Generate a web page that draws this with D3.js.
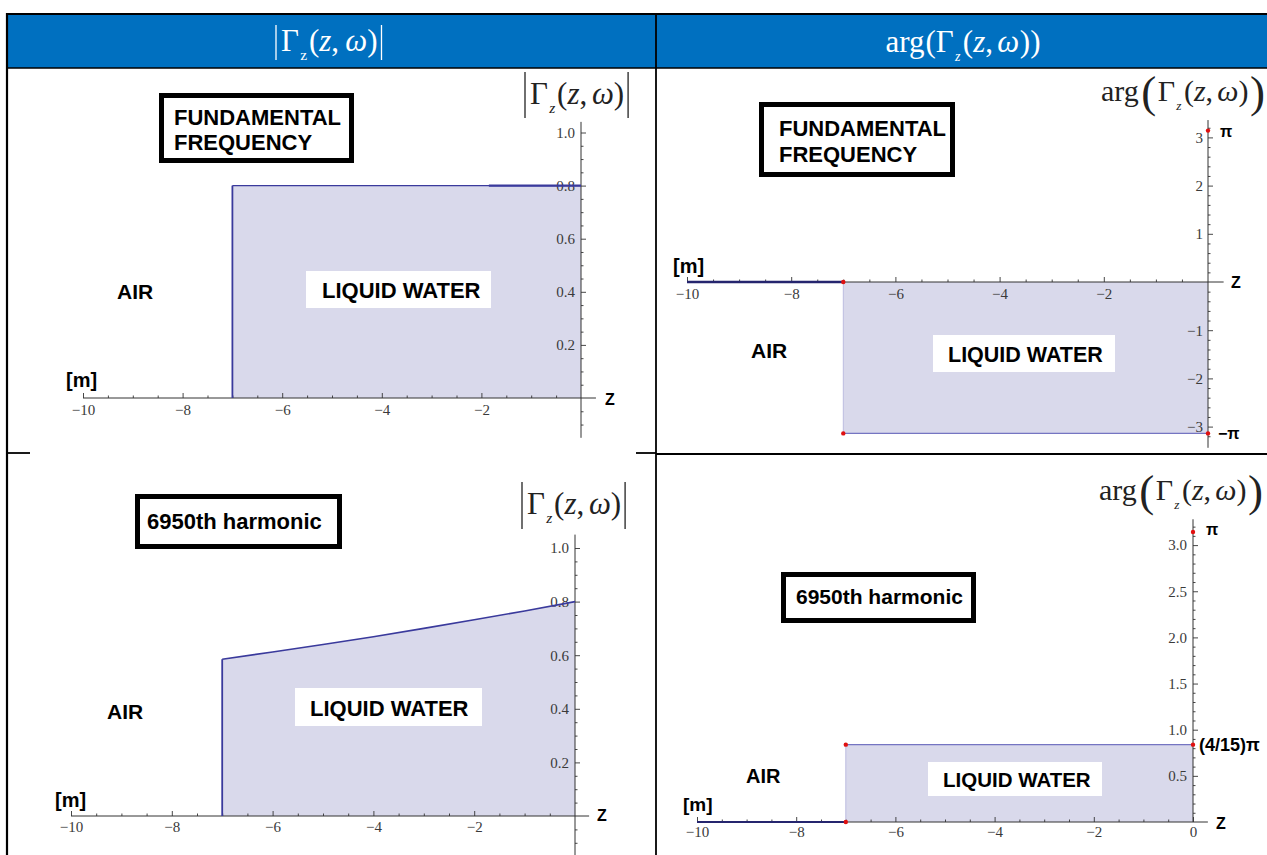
<!DOCTYPE html>
<html>
<head>
<meta charset="utf-8">
<script src="https://cdn.jsdelivr.net/npm/d3@7"></script>
<style>
  body { margin: 0; background: #fff; }
  svg { display: block; }
</style>
</head>
<body>
<svg id="chart" width="1267" height="855"></svg>
<script>
// ---- depth axis (metres, surface at z = 0) ----
const zMajorTicks = [-10, -8, -6, -4, -2];
const zMajorTicksWithZero = [-10, -8, -6, -4, -2, 0];
const zMinorTicks = [-9.5, -9, -8.5, -7.5, -7, -6.5, -5.5, -5, -4.5, -3.5, -3, -2.5, -1.5, -1, -0.5];

// ---- magnitude axis ticks ----
const magMajorTicks = [0.2, 0.4, 0.6, 0.8, 1.0];
const magMinorTicks = [0.05, 0.1, 0.15, 0.25, 0.3, 0.35, 0.45, 0.5, 0.55, 0.65, 0.7, 0.75, 0.85, 0.9, 0.95, -0.05, -0.1];

// ---- phase axis ticks ----
const argFundMajorTicks = [-3, -2, -1, 1, 2, 3];
const argFundMinorTicks = [-3.2, -2.8, -2.6, -2.4, -2.2, -1.8, -1.6, -1.4, -1.2, -0.8, -0.6, -0.4, -0.2,
                           0.2, 0.4, 0.6, 0.8, 1.2, 1.4, 1.6, 1.8, 2.2, 2.4, 2.6, 2.8, 3.2];
const argHarmMajorTicks = [0.5, 1.0, 1.5, 2.0, 2.5, 3.0];
const argHarmMinorTicks = [0.1, 0.2, 0.3, 0.4, 0.6, 0.7, 0.8, 0.9, 1.1, 1.2, 1.3, 1.4, 1.6, 1.7, 1.8, 1.9,
                           2.1, 2.2, 2.3, 2.4, 2.6, 2.7, 2.8, 2.9, 3.1, 3.2];

// ---- |Γz(z,ω)| at the fundamental frequency ----
const fundMagZ      = [-7, -7, 0];
const fundMagValues = [0, 0.8, 0.8];
const fundMagOverlapZ      = [-1.85, 0];
const fundMagOverlapValues = [0.8, 0.8];

// ---- |Γz(z,ω)| at the 6950th harmonic ----
const harmMagZ      = [-7, -7, -6, -5, -4, -3, -2, -1, 0];
const harmMagValues = [0, 0.585, 0.612, 0.640, 0.669, 0.700, 0.732, 0.765, 0.800];

// ---- arg(Γz(z,ω)) at the fundamental frequency ----
const fundArgZ      = [-10, -7, -7, 0];
const fundArgValues = [0, 0, -Math.PI, -Math.PI];
const fundArgMarkZ      = [-7, -7, 0, 0];
const fundArgMarkValues = [0, -Math.PI, -Math.PI, Math.PI];

// ---- arg(Γz(z,ω)) at the 6950th harmonic ----
const harmArgZ      = [-10, -7, -7, 0];
const harmArgValues = [0, 0, 4 * Math.PI / 15, 4 * Math.PI / 15];
const harmArgMarkZ      = [-7, -7, 0, 0];
const harmArgMarkValues = [0, 4 * Math.PI / 15, 4 * Math.PI / 15, Math.PI];

// ---- colours ----
const HEADER_BLUE = "#0070c0";
const LINE = "#3a3a9c";
const NAVY = "#25256e";
const EDGE = "#7575c2";
const FAINT = "#bcbce0";
const FILL = "#d9d9eb";
const DOT = "#e01010";
const AXIS = "#333";
const SERIF = "'Liberation Serif','Times New Roman',serif";
const SANS = "'Liberation Sans',Arial,sans-serif";

const svg = d3.select("#chart");
svg.append("rect").attr("width", 1267).attr("height", 855).attr("fill", "#fff");

// ---------- table frame ----------
const frame = svg.append("g");
frame.append("rect").attr("x", 7).attr("y", 14).attr("width", 1262).attr("height", 54).attr("fill", HEADER_BLUE);
const frameLines = [
  [7, 14, 1267, 14, 2.2],
  [7, 68, 1267, 68, 1.6],
  [7, 13, 7, 855, 2.2],
  [656, 13, 656, 855, 1.8],
  [6, 453, 30, 453, 1.8],
  [636, 453, 656, 453, 1.8],
  [656, 454, 1267, 454, 1.8]
];
frame.selectAll("line").data(frameLines).join("line")
  .attr("x1", d => d[0]).attr("y1", d => d[1]).attr("x2", d => d[2]).attr("y2", d => d[3])
  .attr("stroke", "#000").attr("stroke-width", d => d[4]);

// ---------- math-style labels ----------
function absLabel(parent, x, y, size, color, subItalic, barTop, barBottom, gap) {
  const t = parent.append("text").attr("x", x).attr("y", y)
    .attr("font-family", SERIF).attr("font-size", size).attr("fill", color);
  t.append("tspan").text("Γ");
  t.append("tspan").text("z").attr("font-size", size * 0.5).attr("font-style", subItalic ? "italic" : "normal")
    .attr("dy", size * 0.3).attr("dx", size * 0.04);
  t.append("tspan").text("(").attr("dy", -size * 0.3).attr("dx", size * 0.06);
  t.append("tspan").text("z").attr("font-style", "italic");
  t.append("tspan").text(",");
  t.append("tspan").text("ω").attr("font-style", "italic").attr("dx", size * (gap || 0.15));
  t.append("tspan").text(")");
  const b = t.node().getBBox();
  const bars = [b.x - 5, b.x + b.width + 4];
  parent.selectAll(null).data(bars).join("line")
    .attr("x1", d => d).attr("x2", d => d).attr("y1", barTop).attr("y2", barBottom)
    .attr("stroke", color).attr("stroke-width", 1.3);
}

function argLabel(parent, x, y, size, color, bigParens, anchor, maxRight) {
  const t = parent.append("text").attr("x", x).attr("y", y)
    .attr("font-family", SERIF).attr("font-size", size).attr("fill", color)
    .attr("text-anchor", anchor || "start");
  t.append("tspan").text("arg");
  if (bigParens) {
    t.append("tspan").text("(").attr("font-size", size * 1.5).attr("dy", size * 0.2).attr("dx", size * 0.08)
      .attr("font-weight", "200");
    t.append("tspan").text("Γ").attr("dy", -size * 0.2).attr("dx", size * 0.05);
  } else {
    t.append("tspan").text("(").attr("dx", size * 0.03);
    t.append("tspan").text("Γ");
  }
  t.append("tspan").text("z").attr("font-size", size * 0.45).attr("font-style", "italic").attr("dy", size * 0.3)
    .attr("dx", size * 0.04);
  t.append("tspan").text("(").attr("dy", -size * 0.3).attr("dx", size * 0.08);
  t.append("tspan").text("z").attr("font-style", "italic");
  t.append("tspan").text(",");
  t.append("tspan").text("ω").attr("font-style", "italic").attr("dx", size * 0.14);
  if (bigParens) {
    t.append("tspan").text(")");
    t.append("tspan").text(")").attr("font-size", size * 1.5).attr("dy", size * 0.2).attr("dx", size * 0.05);
  } else {
    t.append("tspan").text(")").attr("dx", size * 0.02);
    t.append("tspan").text(")");
  }
  if (maxRight) {
    const b = t.node().getBBox();
    const over = b.x + b.width - maxRight;
    if (over > 0) t.attr("x", x - over);
  }
}

// header cells
absLabel(svg, 281, 51, 31, "#fff", false, 25, 60, 0.2);
argLabel(svg, 963, 52, 31, "#fff", false, "middle");

// ---------- one plot panel ----------
function panel(cfg) {
  const g = svg.append("g");
  const x = d3.scaleLinear().domain([-10, 0]).range(cfg.xRange);
  const y = d3.scaleLinear().domain([0, 1]).range(cfg.yRange);
  const pts = cfg.z.map((z, i) => [z, cfg.v[i]]);
  const x0 = x(0), y0 = y(0);

  // water region fill
  g.append("path").datum(pts.slice(cfg.fillFrom))
    .attr("d", d3.area().x(d => x(d[0])).y0(y0).y1(d => y(d[1])))
    .attr("fill", FILL);

  // horizontal z axis
  g.append("line").attr("x1", x(-10)).attr("x2", x(cfg.xAxisEnd)).attr("y1", y0).attr("y2", y0)
    .attr("stroke", AXIS).attr("stroke-width", 1);
  const xa = g.append("g").attr("transform", `translate(0,${y0})`)
    .call(d3.axisBottom(x).tickValues(cfg.xTicks).tickSize(-5).tickPadding(cfg.xPad).tickFormat(d3.format("d")));
  const xm = g.append("g").attr("transform", `translate(0,${y0})`)
    .call(d3.axisBottom(x).tickValues(zMinorTicks).tickSize(-2.5).tickFormat(""));

  // vertical value axis
  g.append("line").attr("x1", x0).attr("x2", x0).attr("y1", y(cfg.yAxisLo)).attr("y2", y(cfg.yAxisHi))
    .attr("stroke", AXIS).attr("stroke-width", 1);
  const ya = g.append("g").attr("transform", `translate(${x0},0)`)
    .call(d3.axisLeft(y).tickValues(cfg.yTicks).tickSize(-5).tickPadding(cfg.yPad).tickFormat(d3.format(cfg.yFormat)));
  const ym = g.append("g").attr("transform", `translate(${x0},0)`)
    .call(d3.axisLeft(y).tickValues(cfg.yMinor).tickSize(-2.5).tickFormat(""));

  [xa, xm, ya, ym].forEach(a => {
    a.select(".domain").remove();
    a.attr("color", AXIS).attr("font-family", SERIF).attr("font-size", 15);
    a.selectAll("line").attr("stroke-width", 0.9);
    a.selectAll("text").attr("fill", "#3a3a3a");
  });

  // curve segments
  cfg.segments.forEach(s => {
    g.append("path").datum(pts.slice(s.from, s.to + 1))
      .attr("d", d3.line().x(d => x(d[0])).y(d => y(d[1])))
      .attr("fill", "none").attr("stroke", s.stroke).attr("stroke-width", s.width);
  });
  if (cfg.overlap) {
    g.append("path").datum(cfg.overlap.z.map((z, i) => [z, cfg.overlap.v[i]]))
      .attr("d", d3.line().x(d => x(d[0])).y(d => y(d[1])))
      .attr("fill", "none").attr("stroke", LINE).attr("stroke-width", 2.4);
  }
  if (cfg.marks) {
    g.selectAll("circle.mark").data(cfg.marks.z.map((z, i) => [z, cfg.marks.v[i]])).join("circle")
      .attr("class", "mark").attr("cx", d => x(d[0])).attr("cy", d => y(d[1])).attr("r", 2.2)
      .attr("fill", DOT);
  }
  return g;
}

function boldText(g, txt, x, y, size) {
  return g.append("text").attr("x", x).attr("y", y).attr("font-family", SANS).attr("font-weight", "bold")
    .attr("font-size", size).attr("fill", "#000").text(txt);
}
function framedBox(g, x, y, w, h) {
  g.append("rect").attr("x", x).attr("y", y).attr("width", w).attr("height", h)
    .attr("fill", "#fff").attr("stroke", "#000").attr("stroke-width", 5);
}
function whiteBox(g, x, y, w, h) {
  g.append("rect").attr("x", x).attr("y", y).attr("width", w).attr("height", h).attr("fill", "#fff");
}

// ---------- panel 1: |Γ| fundamental ----------
const p1 = panel({
  xRange: [83, 581], yRange: [398, 132.5], z: fundMagZ, v: fundMagValues, fillFrom: 1,
  xAxisEnd: 0.3, yAxisLo: -0.15, yAxisHi: 1.04, xTicks: zMajorTicks, xPad: 6,
  yTicks: magMajorTicks, yMinor: magMinorTicks, yFormat: ".1f", yPad: 6,
  segments: [{ from: 0, to: 1, stroke: LINE, width: 1.8 }, { from: 1, to: 2, stroke: LINE, width: 1.2 }],
  overlap: { z: fundMagOverlapZ, v: fundMagOverlapValues }
});
framedBox(p1, 161.5, 95.5, 190, 65);
boldText(p1, "FUNDAMENTAL", 174, 125, 22);
boldText(p1, "FREQUENCY", 174, 150, 22);
boldText(p1, "AIR", 117, 299, 21);
whiteBox(p1, 306, 271, 185, 37);
boldText(p1, "LIQUID WATER", 322, 298, 22);
boldText(p1, "[m]", 66, 387, 20);
boldText(p1, "Z", 605, 405, 16);
absLabel(p1, 530, 104, 31, "#222", true, 72, 118);

// ---------- panel 2: arg fundamental ----------
const p2 = panel({
  xRange: [687, 1208], yRange: [282, 233.8], z: fundArgZ, v: fundArgValues, fillFrom: 2,
  xAxisEnd: 0.3, yAxisLo: -3.44, yAxisHi: 3.36, xTicks: zMajorTicks, xPad: 6,
  yTicks: argFundMajorTicks, yMinor: argFundMinorTicks, yFormat: "d", yPad: 5,
  segments: [{ from: 0, to: 1, stroke: NAVY, width: 2.4 }, { from: 1, to: 2, stroke: FAINT, width: 1 },
             { from: 2, to: 3, stroke: EDGE, width: 1.3 }],
  marks: { z: fundArgMarkZ, v: fundArgMarkValues }
});
framedBox(p2, 761.5, 104.5, 191, 70);
boldText(p2, "FUNDAMENTAL", 779, 136, 22);
boldText(p2, "FREQUENCY", 779, 162, 22);
boldText(p2, "AIR", 751, 358, 21);
whiteBox(p2, 933, 335, 182, 37);
boldText(p2, "LIQUID WATER", 948, 362, 21.5);
boldText(p2, "[m]", 673, 273, 20);
boldText(p2, "Z", 1231, 288, 16);
boldText(p2, "π", 1220, 137, 16);
boldText(p2, "−π", 1218, 439, 16);
argLabel(p2, 1108, 101, 30, "#222", true, "start", 1265);

// ---------- panel 3: |Γ| 6950th harmonic ----------
const p3 = panel({
  xRange: [71, 575], yRange: [816, 548], z: harmMagZ, v: harmMagValues, fillFrom: 1,
  xAxisEnd: 0.28, yAxisLo: -0.16, yAxisHi: 1.05, xTicks: zMajorTicks, xPad: 5,
  yTicks: magMajorTicks, yMinor: magMinorTicks, yFormat: ".1f", yPad: 6,
  segments: [{ from: 0, to: 1, stroke: LINE, width: 1.8 }, { from: 1, to: 8, stroke: LINE, width: 1.6 }]
});
framedBox(p3, 137.5, 496.5, 202, 50);
boldText(p3, "6950th harmonic", 147, 529, 22);
boldText(p3, "AIR", 107, 719, 21);
whiteBox(p3, 295, 688, 187, 38);
boldText(p3, "LIQUID WATER", 310, 716, 22);
boldText(p3, "[m]", 55, 807, 20);
boldText(p3, "Z", 597, 821, 16);
absLabel(p3, 527, 514, 31, "#222", true, 482, 529);

// ---------- panel 4: arg 6950th harmonic ----------
const p4 = panel({
  xRange: [697, 1193], yRange: [822, 729.7], z: harmArgZ, v: harmArgValues, fillFrom: 2,
  xAxisEnd: 0.3, yAxisLo: 0, yAxisHi: 3.28, xTicks: zMajorTicksWithZero, xPad: 4,
  yTicks: argHarmMajorTicks, yMinor: argHarmMinorTicks, yFormat: ".1f", yPad: 6,
  segments: [{ from: 0, to: 1, stroke: NAVY, width: 2.2 }, { from: 1, to: 2, stroke: FAINT, width: 1 },
             { from: 2, to: 3, stroke: EDGE, width: 1.3 }],
  marks: { z: harmArgMarkZ, v: harmArgMarkValues }
});
framedBox(p4, 783.5, 574.5, 190, 46);
boldText(p4, "6950th harmonic", 796, 604, 21);
boldText(p4, "AIR", 746, 783, 20);
whiteBox(p4, 928, 762, 174, 34);
boldText(p4, "LIQUID WATER", 943, 787, 20.5);
boldText(p4, "[m]", 683, 811, 19);
boldText(p4, "Z", 1216, 829, 16);
boldText(p4, "π", 1206, 535, 16);
boldText(p4, "(4/15)π", 1199, 751, 18);
argLabel(p4, 1099, 500, 30, "#222", true);
</script>
</body>
</html>
